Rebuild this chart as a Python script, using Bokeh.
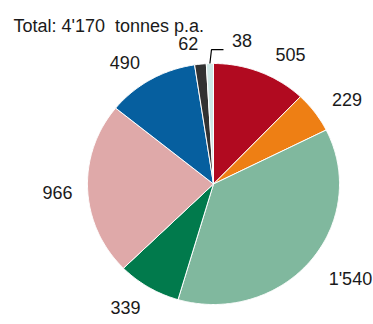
import numpy as np
from bokeh.plotting import figure
from bokeh.models import Range1d, ColumnDataSource
from bokeh.core.properties import value
from bokeh.embed import file_html
from bokeh.resources import INLINE

# ---- data (clockwise from 12 o'clock) ----
labels = ["505", "229", "1'540", "339", "966", "490", "62", "38"]
values = [505, 229, 1540, 339, 966, 490, 62, 38]
colors = ["#b10a20", "#ee7f14", "#80b89e", "#017a4c", "#dfa9a9", "#065f9f", "#323232", "#cfe8e6"]
title_text = "Total: 4'170\u00a0 tonnes p.a."

# ---- layout ----
W, H = 373, 324
CX, CY = 213, 183.5        # pie centre (px)
RX, RY = 126, 120.5        # pie radii (px)
LABEL_R = 1.24
# pixel nudges of the labels (screen px, +y down)
label_dx = [19, 8, 17, -7.5, 0, -11, -9, 33]
label_dy = [9, 4, -1, -4.6, 2, 8, 8, 6]
FONT = "Liberation Sans"

p = figure(width=W, height=H, output_backend="svg", toolbar_location=None,
           min_border=0, outline_line_color=None)
p.x_range = Range1d(-CX / RX, (W - CX) / RX)
p.y_range = Range1d(-(H - CY) / RY, CY / RY)
p.axis.visible = False
p.grid.visible = False
p.background_fill_color = "white"
p.border_fill_color = "white"

vals = np.array(values, dtype=float)
frac = vals / vals.sum()
ends = np.cumsum(frac) * 2 * np.pi
starts = ends - frac * 2 * np.pi
mids = (starts + ends) / 2

xs, ys = [], []
for a0, a1 in zip(starts, ends):
    t = np.linspace(a0, a1, max(3, int((a1 - a0) / 0.01)))
    xs.append([0.0] + list(np.sin(t)) + [0.0])
    ys.append([0.0] + list(np.cos(t)) + [0.0])

p.patches(xs, ys, fill_color=colors, line_color="white", line_width=1)

src = ColumnDataSource(dict(
    x=LABEL_R * np.sin(mids), y=LABEL_R * np.cos(mids), t=labels,
    dx=label_dx, dy=label_dy))
p.text(x="x", y="y", text="t", x_offset="dx", y_offset="dy", source=src,
       text_align="center", text_baseline="middle", text_font=value(FONT),
       text_font_size="18px", text_color="#1a1a1a")

# leader line for the smallest slice
m = mids[-1]
e0 = (np.sin(m), np.cos(m))
e1 = (1.115 * np.sin(m) + 2 / RX, 1.115 * np.cos(m))
e2 = (e1[0] + 12 / RX, e1[1])
p.line([e0[0], e1[0], e2[0]], [e0[1], e1[1], e2[1]], line_color="black", line_width=1.2)

# title
p.text(x=[(13 - CX) / RX], y=[(CY - 25) / RY], text=[title_text],
       text_align="left", text_baseline="alphabetic", text_font=value(FONT),
       text_font_size="18px", text_color="#1a1a1a")

open("out.html", "w").write(file_html(p, INLINE))
